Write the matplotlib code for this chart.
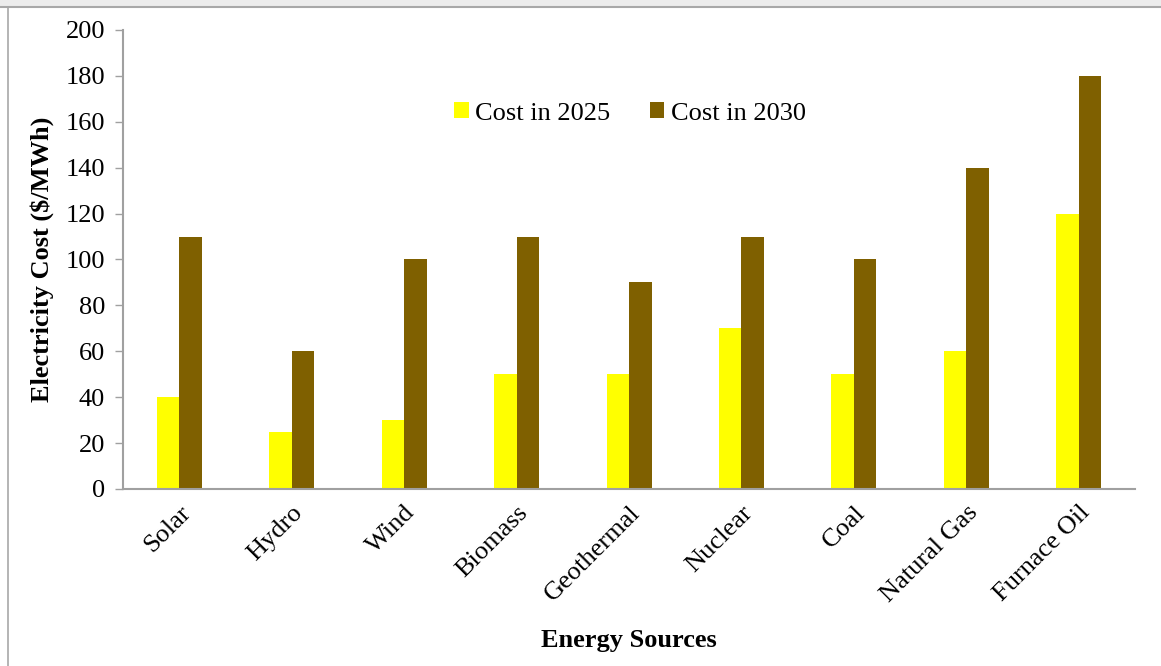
import numpy as np
import matplotlib.pyplot as plt
from matplotlib.patches import Rectangle

# --- DATA ---
sources = ["Solar", "Hydro", "Wind", "Biomass", "Geothermal",
           "Nuclear", "Coal", "Natural Gas", "Furnace Oil"]
cost_2025 = [40, 25, 30, 50, 50, 70, 50, 60, 120]
cost_2030 = [110, 60, 100, 110, 90, 110, 100, 140, 180]
y_ticks = [0, 20, 40, 60, 80, 100, 120, 140, 160, 180, 200]

plt.rcParams['font.family'] = ['Liberation Serif', 'DejaVu Serif']

fig = plt.figure(figsize=(11.61, 6.66), dpi=100)
ax = fig.add_axes([0.106, 0.2658, 0.8716, 0.6892])

# screenshot frame
fig.patches.append(Rectangle((0, 1 - 7 / 666), 1, 7 / 666, transform=fig.transFigure,
                             facecolor='#ececec', edgecolor='none', zorder=0))
fig.lines.append(plt.Line2D([0, 1], [1 - 7 / 666] * 2, transform=fig.transFigure,
                            color='#a8a8a8', lw=1.5))
fig.lines.append(plt.Line2D([8 / 1161] * 2, [0, 1 - 7 / 666], transform=fig.transFigure,
                            color='#a8a8a8', lw=1.2))

x = np.arange(len(sources))
w = 0.2
ax.bar(x - w / 2, cost_2025, w, color='#ffff00', label='Cost in 2025')
ax.bar(x + w / 2, cost_2030, w, color='#7f6000', label='Cost in 2030')

ax.set_xlim(-0.5, len(sources) - 0.5)
ax.set_ylim(0, 200)
ax.set_yticks(y_ticks)
ax.tick_params(axis='y', labelsize=19, length=6, width=1, color='#a0a0a0', pad=7)
ax.set_xticks(x)
ax.set_xticklabels(sources, rotation=45, ha='right', rotation_mode='anchor', fontsize=19)
ax.tick_params(axis='x', length=0, pad=9)

for s in ['top', 'right']:
    ax.spines[s].set_visible(False)
for s in ['left', 'bottom']:
    ax.spines[s].set_color('#a0a0a0')
    ax.spines[s].set_linewidth(1.5)

ax.set_ylabel('Electricity Cost ($/MWh)', fontsize=19, fontweight='bold', labelpad=8)
ax.set_xlabel('Energy Sources', fontsize=19, fontweight='bold', labelpad=16)

ax.legend(loc='center', bbox_to_anchor=(0.501, 0.818), ncol=2, frameon=False,
          fontsize=19, handlelength=0.55, handleheight=0.55, handletextpad=0.25,
          columnspacing=1.5)

fig.savefig('out.png', dpi=100)
